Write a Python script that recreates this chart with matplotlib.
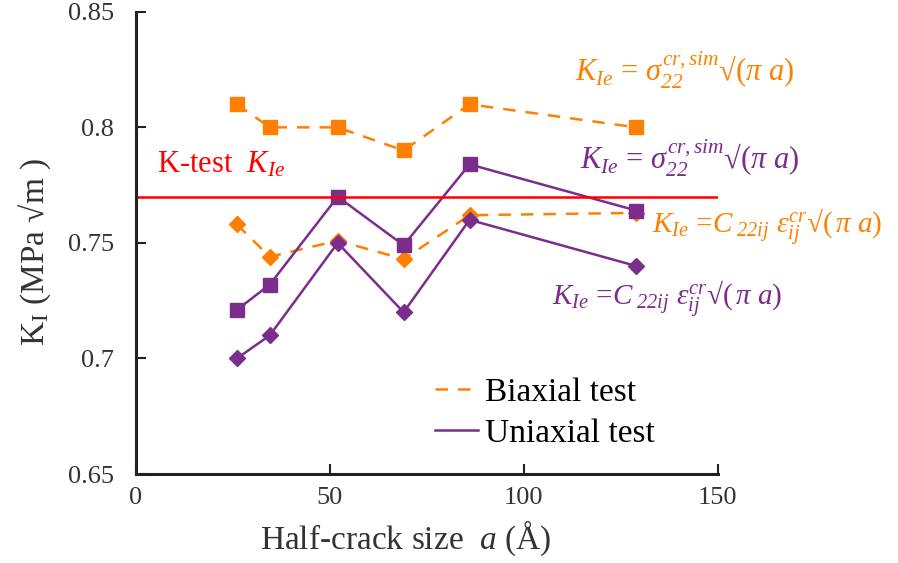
import matplotlib

matplotlib.use("Agg")
import matplotlib.pyplot as plt

# half-crack size a [Angstrom]
a = [26, 34.5, 52, 69, 86, 129]

# biaxial test
biax_sigma = [0.810, 0.800, 0.800, 0.790, 0.810, 0.800]
biax_strain = [0.758, 0.744, 0.751, 0.743, 0.762, 0.763]
# uniaxial test
uniax_sigma = [0.721, 0.732, 0.770, 0.749, 0.784, 0.764]
uniax_strain = [0.700, 0.710, 0.750, 0.720, 0.760, 0.740]

k_test = 0.77

ORANGE = "#ff8000"
PURPLE = "#7b2d8b"
RED = "#ff0000"

plt.rcParams["font.family"] = ["Liberation Serif", "DejaVu Serif"]
plt.rcParams["mathtext.fontset"] = "custom"
plt.rcParams["mathtext.rm"] = "Liberation Serif:italic"
plt.rcParams["mathtext.it"] = "Liberation Serif:italic"

fig = plt.figure(figsize=(8.98, 5.63), dpi=100)
ax = fig.add_axes([0.1514, 0.158, 0.648, 0.821])

ax.plot(a, biax_sigma, "--", color=ORANGE, lw=1.8, dashes=(5, 4),
        marker="s", ms=10, label="Biaxial test")
ax.plot(a, biax_strain, "--", color=ORANGE, lw=1.8, dashes=(5, 4),
        marker="D", ms=8)
ax.plot(a, uniax_sigma, "-", color=PURPLE, lw=1.8, marker="s", ms=10,
        label="Uniaxial test")
ax.plot(a, uniax_strain, "-", color=PURPLE, lw=1.8, marker="D", ms=8)
ax.axhline(k_test, color=RED, lw=1.8)

ax.set_xlim(0, 150)
ax.set_ylim(0.65, 0.85)
ax.set_xticks([0, 50, 100, 150])
ax.set_xticklabels(["0", "50", "100", "150"])
ax.set_yticks([0.65, 0.7, 0.75, 0.8, 0.85])
ax.set_yticklabels(["0.65", "0.7", "0.75", "0.8", "0.85"])
ax.tick_params(direction="in", length=7, width=1.5, labelsize=19, colors="#222222",
               labelcolor="#333333")
ax.tick_params(axis="x", pad=9)
ax.tick_params(axis="y", pad=16)
for s in ("top", "right"):
    ax.spines[s].set_visible(False)
for s in ("left", "bottom"):
    ax.spines[s].set_linewidth(2.2)
    ax.spines[s].set_color("#222222")

ax.set_xlabel("Half-crack size  $a$ (Å)", fontsize=24, color="#333333")
ax.xaxis.set_label_coords(0.464, -0.097)
ax.set_ylabel(r"K$_\mathregular{I}$ (MPa √m )", fontsize=24, color="#333333")
ax.yaxis.set_label_coords(-0.142, 0.48)

ax.text(5.4, 0.7803, r"K-test  $K_{Ie}$", color=RED, fontsize=22, va="baseline")
ax.text(113.1, 0.8197, r"$K_{Ie}$ = $\sigma_{22}^{cr,sim}$√($\pi$ $a$)",
        color=ORANGE, fontsize=22, va="baseline", clip_on=False)
ax.text(114.4, 0.7816, r"$K_{Ie}$ = $\sigma_{22}^{cr,sim}$√($\pi$ $a$)",
        color=PURPLE, fontsize=22, va="baseline", clip_on=False)
ax.text(133.0, 0.7543, r"$K_{Ie}$ =$C_{\ 22ij}$ $\epsilon_{ij}^{cr}$√($\,\pi$ $a$)",
        color=ORANGE, fontsize=21, va="baseline", clip_on=False)
ax.text(107.2, 0.7232, r"$K_{Ie}$ =$C_{\ 22ij}$ $\epsilon_{ij}^{cr}$√($\,\pi$ $a$)",
        color=PURPLE, fontsize=21, va="baseline", clip_on=False)

leg = ax.legend(handles=[ax.lines[0], ax.lines[2]], loc="center left",
                bbox_to_anchor=(0.514, 0.132), frameon=False, fontsize=24,
                borderpad=0, borderaxespad=0, handlelength=1.3,
                handletextpad=0.2, labelspacing=0.3)
for h in leg.legend_handles:
    h.set_marker("")

fig.savefig("out.png", dpi=100)
